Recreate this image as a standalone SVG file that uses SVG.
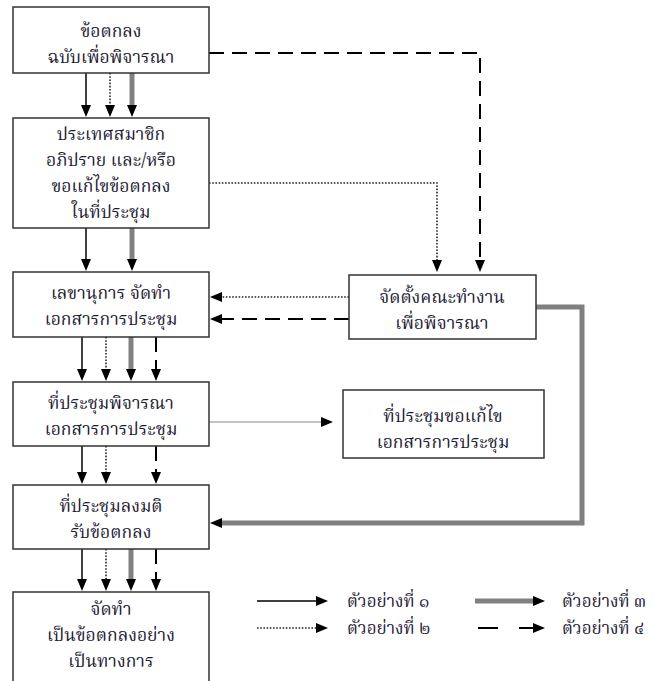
<svg xmlns="http://www.w3.org/2000/svg" width="653" height="681" viewBox="0 0 653 681">
<defs>
<style>
.box{fill:#fff;stroke:#333;stroke-width:1.5}
text{font-family:"Noto Serif Thai","Noto Sans Thai","Noto Sans",sans-serif;font-size:17.5px;fill:#1c1a33;text-anchor:middle}
.leg{text-anchor:start;font-size:17px}
.c{fill:none}
.s{stroke:#000;stroke-width:1.5}
.d{stroke:#222;stroke-width:1.6;stroke-dasharray:1.6,1.6}
.t{stroke:#808080;stroke-width:5}
.g{stroke:#888;stroke-width:1}
.k{stroke:#000;stroke-width:2;stroke-dasharray:15,8}
</style>
<marker id="ah" markerUnits="userSpaceOnUse" markerWidth="12" markerHeight="10" refX="0" refY="5" orient="auto" overflow="visible">
<path d="M0,0 L12,5 L0,10 z" fill="#000"/>
</marker>
</defs>
<rect width="653" height="681" fill="#fff"/>
<g id="connectors" class="c" marker-end="url(#ah)">
<path class="s" d="M86,73 V105"/>
<path class="d" d="M110,73 V105"/>
<path class="t" d="M132,73 V105"/>
<path class="s" d="M86,228 V259"/>
<path class="t" d="M132,228 V259"/>
<path class="s" d="M82,337 V369"/>
<path class="d" d="M106,337 V369"/>
<path class="t" d="M131,337 V369"/>
<path class="k" d="M156,337 V369"/>
<path class="s" d="M82,446 V472"/>
<path class="d" d="M106,446 V472"/>
<path class="k" d="M156,446 V472"/>
<path class="s" d="M82,549 V579"/>
<path class="d" d="M106,549 V579"/>
<path class="t" d="M131,549 V579"/>
<path class="k" d="M156,549 V579"/>
<path class="k" d="M209,53 H480 V260"/>
<path class="d" d="M209,183 H437 V260"/>
<path class="d" d="M349,297 H222"/>
<path class="k" d="M349,319 H222"/>
<path class="g" d="M209,422 H321"/>
<path class="t" d="M536,307 H582 V523 H222"/>
<path class="s" d="M257,601 H316"/>
<path class="t" d="M475,601 H533"/>
<path class="d" d="M257,628 H316"/>
<path class="c" stroke="#000" stroke-width="2" stroke-dasharray="20,21" d="M478,628 H533"/>
</g>
<g id="n1"><rect class="box" x="13" y="7" width="196" height="66"/><text x="111" y="37">ข้อตกลง</text><text x="111" y="63">ฉบับเพื่อพิจารณา</text></g>
<g id="n2"><rect class="box" x="13" y="118" width="196" height="110"/><text x="111" y="140">ประเทศสมาชิก</text><text x="111" y="166">อภิปราย และ/หรือ</text><text x="111" y="192">ขอแก้ไขข้อตกลง</text><text x="111" y="218">ในที่ประชุม</text></g>
<g id="n3"><rect class="box" x="13" y="272" width="196" height="65"/><text x="111" y="299">เลขานุการ จัดทำ</text><text x="111" y="325">เอกสารการประชุม</text></g>
<g id="n4"><rect class="box" x="13" y="382" width="196" height="64"/><text x="111" y="409">ที่ประชุมพิจารณา</text><text x="111" y="435">เอกสารการประชุม</text></g>
<g id="n5"><rect class="box" x="13" y="485" width="196" height="64"/><text x="111" y="512">ที่ประชุมลงมติ</text><text x="111" y="538">รับข้อตกลง</text></g>
<g id="n6"><rect class="box" x="13" y="592" width="196" height="110"/><text x="111" y="615">จัดทำ</text><text x="111" y="641">เป็นข้อตกลงอย่าง</text><text x="111" y="667">เป็นทางการ</text></g>
<g id="n7"><rect class="box" x="349" y="275" width="187" height="64"/><text x="442" y="303">จัดตั้งคณะทำงาน</text><text x="442" y="329">เพื่อพิจารณา</text></g>
<g id="n8"><rect class="box" x="343" y="390" width="201" height="68"/><text x="443" y="422">ที่ประชุมขอแก้ไข</text><text x="443" y="448">เอกสารการประชุม</text></g>
<g id="legend">
<text class="leg" x="347" y="607">ตัวอย่างที่ ๑</text>
<text class="leg" x="347" y="634">ตัวอย่างที่ ๒</text>
<text class="leg" x="562" y="607">ตัวอย่างที่ ๓</text>
<text class="leg" x="562" y="634">ตัวอย่างที่ ๔</text>
</g>
</svg>
